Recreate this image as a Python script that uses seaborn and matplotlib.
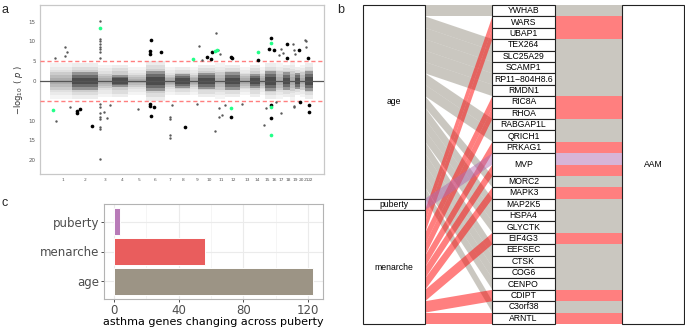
import numpy as np
import pandas as pd
import matplotlib
matplotlib.use('Agg')
import matplotlib.pyplot as plt
import seaborn as sns
from matplotlib.patches import Rectangle, Polygon

sns.set_style('white')
plt.rcParams['font.family'] = ['DejaVu Sans']

# ---- panel a: manhattan-style plot (positions in cumulative genome units) ----
chrom_labels = [str(i) for i in range(1, 23)]
chrom_ticks = [63, 85, 105, 122, 139, 155, 170, 183, 197, 209, 221, 233,
               247, 257, 267, 274, 281, 288, 295, 301, 306, 310.5]
chrom_start = [50, 72, 98, 112, 128, 146, 165, 175, 190, 198, 215, 225,
               240, 250, 260, 265, 276, 283, 290, 295, 300, 305]
chrom_end = [72, 98, 112, 128, 146, 165, 175, 190, 198, 215, 225, 240,
             250, 260, 265, 276, 283, 290, 295, 300, 305, 313]
# dense core and sparse spread of the background cloud (-log10 p, both sides)
cloud_core = [2.2, 2.2, 1.8, 1.6, 1.5, 2.6, 1.6, 1.8, 1.6, 2.0, 2.2, 2.2,
              1.8, 1.8, 1.8, 2.6, 2.4, 2.2, 2.6, 2.0, 2.2, 2.6]
cloud_spread = [4.5, 4.5, 4.0, 4.0, 3.5, 5.0, 3.5, 3.5, 3.5, 4.0, 4.5, 4.0,
                3.5, 4.0, 3.5, 4.5, 4.5, 4.0, 5.0, 3.5, 4.0, 4.5]

# notable points: position, signed -log10(p), kind
hit_pos = [55, 65, 67.3, 64.7, 100, 100, 100, 100, 100, 100, 100, 100, 100,
           151, 150.3, 150.3, 161, 199, 192.7, 201.7, 206.7, 211.7, 211, 215, 216.7,
           215.7, 218.3, 220, 231.3, 232, 258.3, 258.3, 270.7, 270.7, 269.3, 274,
           280.7, 278.7, 287.3, 287.3, 282.7, 293.3, 294, 295, 299, 305.3, 305.7,
           306.3, 308.3,
           53.3, 55.7, 70, 76.7, 76.7, 80, 92.3, 100, 100, 100, 100, 100, 100, 100,
           100, 104, 107.3, 110, 137.7, 150, 149.7, 151, 154, 170, 170, 170, 170,
           171.7, 184.7, 197.3, 215, 219, 219, 221.7, 225, 231, 231, 242.3, 264.3,
           265.7, 270.7, 270.7, 270.7, 270.7, 276, 281, 294, 294, 300, 309.3, 309]
hit_logp = [5.9, 8.5, 7.3, 6.2, 15.2, 13.4, 10.5, 10.0, 9.4, 8.7, 8.0, 7.4, 5.9,
            10.4, 7.7, 6.8, 7.3, 8.9, 5.5, 5.3, 6.1, 7.2, 5.5, 7.7, 7.8,
            12.2, 7.8, 6.9, 6.1, 5.8, 7.2, 5.3, 10.8, 9.6, 8.2, 7.8,
            8.1, 6.6, 9.3, 5.8, 7.0, 9.3, 7.8, 6.8, 7.8, 10.4, 10.0,
            8.7, 5.8,
            -7.3, -10.1, -6.5, -7.6, -8.0, -7.1, -11.3, -5.9, -6.5, -8.0, -9.2, -9.7,
            -11.7, -12.2, -19.6, -7.8, -9.3, -6.1, -7.1, -5.7, -6.2, -8.9, -6.6,
            -9.2, -9.6, -13.7, -14.3, -6.1, -11.6, -5.8, -12.6, -6.7, -9.0, -8.6,
            -6.1, -6.8, -9.0, -5.7, -11.0, -6.9, -6.0, -6.5, -9.4, -13.7, -5.2, -8.2,
            -6.2, -6.5, -5.3, -6.0, -7.9]
hit_kind = ['grey', 'grey', 'grey', 'grey', 'grey', 'green', 'grey', 'grey', 'grey',
            'grey', 'grey', 'grey', 'grey',
            'black', 'black', 'black', 'black', 'grey', 'green', 'grey', 'black',
            'black', 'black', 'green', 'green', 'grey', 'grey', 'grey', 'black',
            'black', 'green', 'black', 'black', 'green', 'black', 'black',
            'grey', 'grey', 'black', 'black', 'grey', 'grey', 'grey', 'grey',
            'black', 'grey', 'grey', 'grey', 'black',
            'green', 'grey', 'grey', 'black', 'black', 'black', 'black', 'grey',
            'grey', 'grey', 'grey', 'grey', 'grey', 'grey', 'grey', 'grey', 'grey',
            'grey', 'grey', 'black', 'black', 'black', 'black', 'grey', 'grey',
            'grey', 'grey', 'grey', 'black', 'grey', 'grey', 'grey', 'grey', 'grey',
            'grey', 'green', 'black', 'grey', 'grey', 'grey', 'black', 'green',
            'black', 'green', 'grey', 'grey', 'grey', 'grey', 'black', 'black', 'black']
threshold = 5.15

# ---- panel b: alluvial of asthma genes ----
gene_order = ['YWHAB', 'WARS', 'UBAP1', 'TEX264', 'SLC25A29', 'SCAMP1',
              'RP11\u2212804H8.6', 'RMDN1', 'RIC8A', 'RHOA', 'RABGAP1L', 'QRICH1',
              'PRKAG1', 'MVP', 'MORC2', 'MAPK3', 'MAP2K5', 'HSPA4', 'GLYCTK',
              'EIF4G3', 'EEFSEC', 'CTSK', 'COG6', 'CENPO', 'CDIPT', 'C3orf38', 'ARNTL']
age_genes = ['YWHAB', 'TEX264', 'SLC25A29', 'SCAMP1', 'RP11\u2212804H8.6', 'RMDN1',
             'RABGAP1L', 'QRICH1', 'MORC2', 'MAP2K5', 'HSPA4', 'GLYCTK', 'EEFSEC',
             'CTSK', 'COG6', 'CENPO', 'C3orf38']
puberty_genes = ['MVP']
menarche_genes = ['WARS', 'UBAP1', 'RIC8A', 'RHOA', 'PRKAG1', 'MVP', 'MAPK3',
                  'EIF4G3', 'CDIPT', 'ARNTL']
source_order = ['age', 'puberty', 'menarche']
target_label = 'AAM'

# ---- panel c: bar counts ----
bar_cats = ['puberty', 'menarche', 'age']
bar_counts = [4, 56, 123]

bar_colors = {'age': '#9C9485', 'menarche': '#E95D5D', 'puberty': '#B87BB8'}
flow_colors = {'age': '#979183', 'menarche': '#FF0000', 'puberty': '#B16BB1'}

W, H = 685, 327
fig = plt.figure(figsize=(W / 100, H / 100), dpi=100)


def axes_px(l, t, r, b):
    return fig.add_axes([l / W, 1 - b / H, (r - l) / W, (b - t) / H])


# ================= panel a =================
axa = axes_px(40, 5, 324, 174)
for i in range(22):
    even = i % 2 == 1
    outer_c = '#6E6E6E' if even else '#A8A8A8'
    core_c = '#111111' if even else '#808080'
    xs = [chrom_start[i], chrom_end[i]]
    # soft fade from sparse edge to dense core
    for f, a in [(1.0, 0.12), (0.8, 0.12), (0.6, 0.14)]:
        h = cloud_spread[i] * f
        axa.fill_between(xs, -h, h, color=outer_c, alpha=a, lw=0, zorder=1)
    core_alphas = [0.3, 0.3, 0.35] if even else [0.2, 0.22, 0.25]
    for f, a in zip([1.0, 0.7, 0.4], core_alphas):
        h = cloud_core[i] * f
        axa.fill_between(xs, -h, h, color=core_c, alpha=a, lw=0, zorder=2)
axa.axhline(0, color='#555555', lw=0.9, zorder=3)
axa.axhline(threshold, color='#FF7F7F', lw=1.0, ls=(0, (3, 2)), zorder=3)
axa.axhline(-threshold, color='#FF7F7F', lw=1.0, ls=(0, (3, 2)), zorder=3)

hits = pd.DataFrame({'pos': hit_pos, 'logp': hit_logp, 'kind': hit_kind})
kind_style = {'grey': ('#5A5A5A', 3), 'black': ('#000000', 7), 'green': ('#22FF88', 7)}
for kind, (col, size) in kind_style.items():
    sub = hits[hits['kind'] == kind]
    sns.scatterplot(data=sub, x='pos', y='logp', color=col, s=size, linewidth=0,
                    ax=axa, zorder=4, legend=False)

axa.set_xlim(40, 324)
axa.set_ylim(-23.5, 19.2)
axa.set_xticks(chrom_ticks)
axa.set_xticklabels(chrom_labels)
axa.set_yticks([-20, -15, -10, 0, 5, 10, 15])
axa.set_yticklabels(['20', '15', '10', '0', '5', '10', '15'])
axa.tick_params(axis='y', labelsize=4, colors='#555555', length=1.5, width=0.5, pad=1.5)
axa.tick_params(axis='x', labelsize=3.2, colors='#555555', length=1.5, width=0.5, pad=1.5)
axa.set_xlabel('')
axa.set_ylabel(r'$-\log_{10}\ (\ \mathit{p}\ )$', fontsize=6, color='#333333', labelpad=3)
for s in axa.spines.values():
    s.set_color('#C8C8C8')
    s.set_linewidth(0.9)

# ================= panel b =================
axb = axes_px(363, 5, 684, 324)
w = 0.48
xl, xm, xr = 1, 2, 3
src_genes = {'age': age_genes, 'puberty': puberty_genes, 'menarche': menarche_genes}

# middle stratum lodes (top-down), ordered by gene then by source
mid_pos = {}
gene_span = {}
y = 0
for g in gene_order:
    y0 = y
    for s in source_order:
        if g in src_genes[s]:
            mid_pos[(g, s)] = (y, y + 1)
            y += 1
    gene_span[g] = (y0, y)
total = y

# left stratum lodes, ordered by destination gene
left_pos = {}
src_span = {}
y = 0
for s in source_order:
    y0 = y
    for g in gene_order:
        if g in src_genes[s]:
            left_pos[(g, s)] = (y, y + 1)
            y += 1
    src_span[s] = (y0, y)

draw_order = ['age', 'menarche', 'puberty']
for s in draw_order:
    for (g, src), (l0, l1) in left_pos.items():
        if src != s:
            continue
        m0, m1 = mid_pos[(g, s)]
        axb.add_patch(Polygon([(xl + w / 2, l0), (xm - w / 2, m0),
                               (xm - w / 2, m1), (xl + w / 2, l1)],
                              closed=True, fc=flow_colors[s], alpha=0.5, lw=0, zorder=1))
        axb.add_patch(Rectangle((xm + w / 2, m0), (xr - xm) - w, 1,
                                fc=flow_colors[s], alpha=0.5, lw=0, zorder=1))

label_font = dict(family=['Liberation Sans', 'DejaVu Sans'], fontsize=6.2, color='black')
for s in source_order:
    a, b = src_span[s]
    axb.add_patch(Rectangle((xl - w / 2, a), w, b - a, fc='white', ec='#222222',
                            lw=0.8, zorder=3, clip_on=False))
    axb.text(xl, (a + b) / 2, s, ha='center', va='center', zorder=4, **label_font)
for g in gene_order:
    a, b = gene_span[g]
    axb.add_patch(Rectangle((xm - w / 2, a), w, b - a, fc='white', ec='#222222',
                            lw=0.8, zorder=3, clip_on=False))
    axb.text(xm, (a + b) / 2, g, ha='center', va='center', zorder=4, **label_font)
axb.add_patch(Rectangle((xr - w / 2, 0), w, total, fc='white', ec='#222222',
                        lw=0.8, zorder=3, clip_on=False))
axb.text(xr, total / 2, target_label, ha='center', va='center', zorder=4, **label_font)
axb.set_xlim(xl - w / 2, xr + w / 2)
axb.set_ylim(total, 0)
axb.axis('off')

# ================= panel c =================
axc = axes_px(104, 204, 323, 299)
bars = pd.DataFrame({'factor': bar_cats, 'n': bar_counts})
sns.barplot(data=bars, x='n', y='factor', hue='factor', order=bar_cats,
            palette=bar_colors, width=0.92, saturation=1, edgecolor='white',
            linewidth=0.7, legend=False, ax=axc)
axc.set_xlim(-6.15, 129.15)
axc.set_ylim(2.6, -0.6)
axc.set_xticks([0, 40, 80, 120])
axc.set_xticks([20, 60, 100], minor=True)
axc.grid(which='major', color='#EBEBEB', lw=0.8)
axc.grid(which='minor', axis='x', color='#F2F2F2', lw=0.5)
axc.set_axisbelow(True)
axc.tick_params(axis='both', which='major', labelsize=8.5, labelcolor='#4D4D4D',
                color='#333333', length=2, width=0.6, pad=1.5, left=True, bottom=True)
axc.tick_params(which='minor', length=0)
axc.set_ylabel('')
axc.set_xlabel('asthma genes changing across puberty', fontsize=8, color='black', labelpad=0)
for s in axc.spines.values():
    s.set_color('#B3B3B3')
    s.set_linewidth(0.8)

# panel letters
for lab, (px, py) in {'a': (2, 10), 'b': (337, 10), 'c': (2, 203)}.items():
    fig.text(px / W, 1 - py / H, lab, fontsize=9, family=['Liberation Sans', 'DejaVu Sans'],
             ha='left', va='center')

fig.savefig('out.png', dpi=100)
